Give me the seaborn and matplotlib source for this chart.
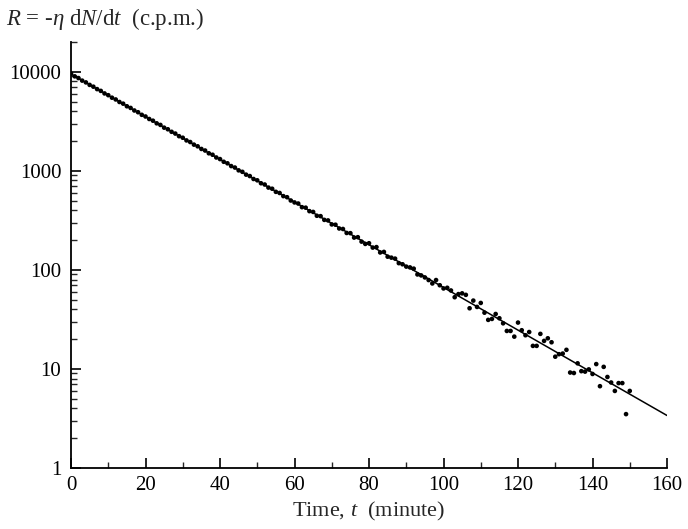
import numpy as np
import pandas as pd
import seaborn as sns
import matplotlib.pyplot as plt
from matplotlib.ticker import LogLocator, MultipleLocator, FixedLocator, NullFormatter

# measured count rate, one reading per minute
times = list(range(0, 151))
rates = [
    9600, 9000, 8650, 8150, 7820, 7380, 7080, 6690, 6420, 6050,
    5810, 5480, 5260, 4960, 4770, 4490, 4320, 4070, 3910, 3680,
    3540, 3340, 3210, 3020, 2910, 2730, 2630, 2480, 2380, 2240,
    2160, 2030, 1955, 1840, 1770, 1665, 1605, 1505, 1455, 1365,
    1315, 1235, 1192, 1118, 1080, 1012, 978, 916, 886, 828,
    803, 750, 728, 678, 660, 614, 598, 556, 542, 502,
    480, 468, 430, 425, 392, 385, 352, 349, 320, 316,
    288, 286, 262, 259, 236, 235, 212, 214, 193, 183,
    186, 168, 170, 150, 152, 136, 133, 130, 117, 114,
    108, 106, 103, 90, 88, 84, 79, 73, 79, 70,
    65, 66, 62, 53, 57, 58, 56, 41, 49, 42.3,
    46.4, 37, 31.3, 32, 35.9, 32.5, 28.9, 24.2, 24.2, 21.2,
    29.4, 24.6, 21.9, 23.6, 17.1, 17.1, 22.6, 19.2, 20.4, 18.6,
    13.3, 14.1, 14.3, 15.6, 9.2, 9.1, 11.4, 9.5, 9.4, 9.9,
    8.9, 11.2, 6.7, 10.5, 8.3, 7.3, 6.0, 7.2, 7.2, 3.5,
    6.0,
]

# fitted exponential decay (straight on the log axis)
fit_times = [0, 160]
fit_rates = [9500, 3.39]

x_ticks = [0, 20, 40, 60, 80, 100, 120, 140, 160]
y_ticks = [1, 10, 100, 1000, 10000]
y_labels = ["1", "10", "100", "1000", "10000"]

sns.set_style("ticks")
plt.rcParams['font.family'] = ['Liberation Serif', 'DejaVu Serif']
plt.rcParams['mathtext.fontset'] = 'custom'
plt.rcParams['mathtext.rm'] = 'Liberation Serif'
plt.rcParams['mathtext.it'] = 'Liberation Serif:italic'

data = pd.DataFrame({"t": times, "R": rates})
fit = pd.DataFrame({"t": fit_times, "R": fit_rates})

fig = plt.figure(figsize=(6.88, 5.29), dpi=100, facecolor='white')
ax = fig.add_axes([0.1032, 0.1153, 0.8663, 0.8053])

sns.lineplot(data=fit, x="t", y="R", ax=ax, color='black', linewidth=1.1)
sns.scatterplot(data=data, x="t", y="R", ax=ax, color='black', s=11,
                edgecolor='none', zorder=3)

ax.set_yscale('log')
ax.set_xlim(0, 160)
ax.set_ylim(1, 20000)

ax.xaxis.set_major_locator(FixedLocator(x_ticks))
ax.xaxis.set_minor_locator(MultipleLocator(10))
ax.set_xticklabels([str(v) for v in x_ticks])
ax.yaxis.set_major_locator(FixedLocator(y_ticks))
ax.set_yticklabels(y_labels)
ax.yaxis.set_minor_locator(LogLocator(base=10, subs=np.arange(2, 10)))
ax.yaxis.set_minor_formatter(NullFormatter())

ax.tick_params(which='major', direction='in', length=7, width=1.2,
               labelsize=15, colors='black')
ax.tick_params(axis='x', which='major', pad=6)
ax.tick_params(axis='y', which='major', pad=7)
ax.tick_params(which='minor', direction='in', length=4, width=1.0)
ax.tick_params(axis='y', which='both', right=False)
ax.tick_params(axis='x', which='both', top=False)

for side in ['top', 'right']:
    ax.spines[side].set_visible(False)
for side in ['left', 'bottom']:
    ax.spines[side].set_linewidth(1.3)
    ax.spines[side].set_color('black')

ax.set_xlabel(r"Time, $t$  (minute)", fontsize=16, labelpad=3)
ax.set_ylabel("")
fig.text(0.008, 0.965, r"$R$ = -$\eta$ d$N$/d$t$  (c.p.m.)", fontsize=16.5,
         ha='left', va='center')

fig.savefig("out.png", dpi=100, facecolor='white')
